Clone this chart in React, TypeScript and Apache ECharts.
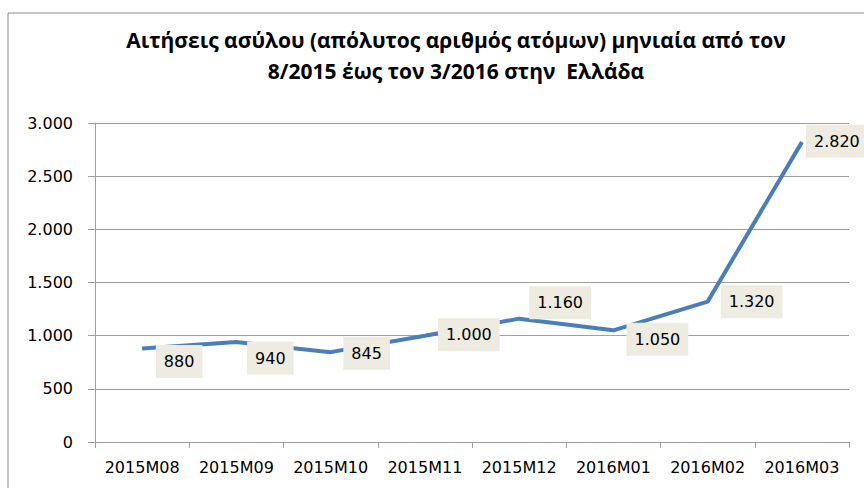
import React, { useEffect, useRef } from "react";
import * as echarts from "echarts";

const categories = ["2015M08", "2015M09", "2015M10", "2015M11", "2015M12", "2016M01", "2016M02", "2016M03"];
const applications = [880, 940, 845, 1000, 1160, 1050, 1320, 2820];
const titleLines = [
  "Αιτήσεις ασύλου (απόλυτος αριθμός ατόμων) μηνιαία από τον",
  "8/2015 έως τον 3/2016 στην  Ελλάδα",
];

// label box offsets relative to each point (layout, not data)
const LABEL_OFFSETS: [number, number][] = [
  [37, 13], [34, 16], [36, 1], [44, -1], [41, -16], [44, 9], [44, 0], [35, -1],
];

const fmt = (v: number) => {
  const s = String(Math.round(v));
  return s.replace(/\B(?=(\d{3})+(?!\d))/g, ".");
};

export default function App() {
  const ref = useRef<HTMLDivElement>(null);
  useEffect(() => {
    if (!ref.current) return;
    const chart = echarts.init(ref.current, undefined, { renderer: "svg" });
    const gray = "#A0A0A0";
    const font = "DejaVu Sans";
    chart.setOption({
      animation: false,
      backgroundColor: "#ffffff",
      title: {
        text: titleLines.join("\n"),
        left: 451,
        top: 19,
        textAlign: "center",
        textStyle: {
          fontFamily: "Open Sans",
          fontWeight: "bold",
          fontSize: 21,
          lineHeight: 31,
          color: "#000000",
        },
      },
      graphic: [
        { type: "line", shape: { x1: 8, y1: 13, x2: 864, y2: 13 }, style: { stroke: "#8C8C8C", lineWidth: 1 } },
        { type: "line", shape: { x1: 8, y1: 13, x2: 8, y2: 488 }, style: { stroke: "#8C8C8C", lineWidth: 1 } },
      ],
      grid: { left: 95, right: 15, top: 123, bottom: 46 },
      xAxis: {
        type: "category",
        data: categories,
        boundaryGap: true,
        axisLine: { show: true, lineStyle: { color: gray, width: 1 } },
        axisTick: { show: true, interval: 0, length: 6, lineStyle: { color: gray } },
        axisLabel: { interval: 0, margin: 17, color: "#000", fontFamily: font, fontSize: 16 },
        splitLine: { show: false },
      },
      yAxis: {
        type: "value",
        min: 0,
        max: 3000,
        interval: 500,
        axisLine: { show: true, lineStyle: { color: gray, width: 1 } },
        axisTick: { show: true, length: 7, lineStyle: { color: gray } },
        axisLabel: { margin: 22, color: "#000", fontFamily: font, fontSize: 16, formatter: (v: number) => fmt(v) },
        splitLine: { show: true, lineStyle: { color: gray, width: 1 } },
      },
      series: [
        {
          type: "line",
          data: applications.map((v, i) => ({
            value: v,
            label: { offset: LABEL_OFFSETS[i] },
          })),
          symbol: "circle",
          symbolSize: 1,
          showSymbol: true,
          lineStyle: { color: "#4A7EBB", width: 4 },
          itemStyle: { color: "#4A7EBB" },
          label: {
            show: true,
            position: "inside",
            align: "center",
            verticalAlign: "middle",
            formatter: (p: any) => fmt(p.value),
            fontFamily: font,
            fontSize: 16,
            color: "#000",
            backgroundColor: "#EEECE1",
            padding: [9, 8, 8, 8],
          },
        },
      ],
    });
    return () => chart.dispose();
  }, []);
  return (
    <div
      ref={ref}
      style={{ position: "fixed", left: 0, top: 0, width: 864, height: 488, background: "#fff" }}
    />
  );
}
